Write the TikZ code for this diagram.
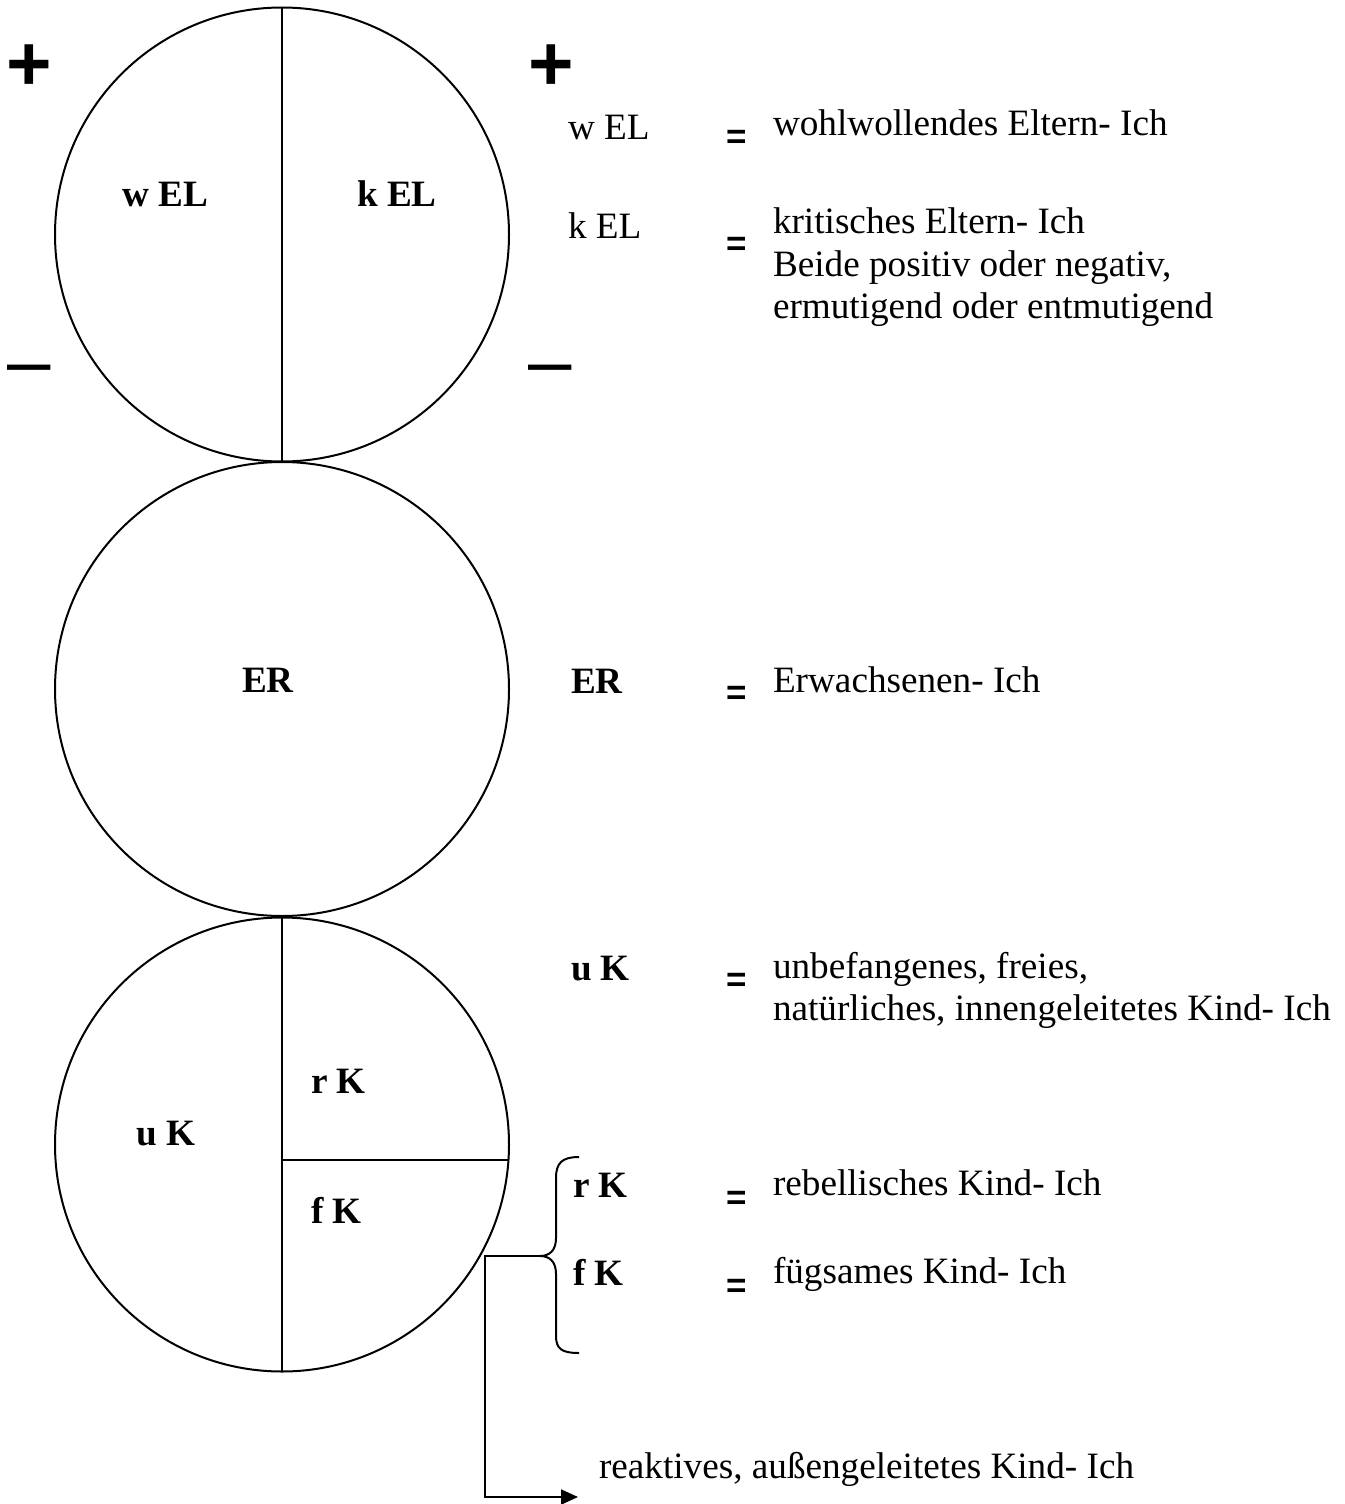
\documentclass[tikz,border=0pt]{standalone}
\usepackage{fontspec}
\setmainfont{Liberation Serif}
\newfontfamily\signfont{Liberation Sans}
\usetikzlibrary{arrows.meta}

\begin{document}
\begin{tikzpicture}[x=0.5pt,y=-0.5pt,line width=1pt,
  cellname/.style={inner sep=0pt,anchor=base,font=\fontsize{18.6}{22}\selectfont\bfseries},
  abbr/.style={inner sep=0pt,anchor=base west,font=\fontsize{18.6}{22}\selectfont},
  abbrb/.style={abbr,font=\fontsize{18.6}{22}\selectfont\bfseries},
  desc/.style={inner sep=0pt,anchor=base west,font=\fontsize{18.6}{22}\selectfont},
  equals/.style={inner sep=0pt,font=\signfont\bfseries\fontsize{17.5}{20}\selectfont},
  possign/.style={inner sep=0pt,font=\signfont\bfseries\fontsize{39}{44}\selectfont},
  negsign/.style={inner sep=0pt,anchor=base west,font=\signfont\fontsize{39}{44}\selectfont},
  arrowline/.style={-{Triangle[length=8.5pt,width=7.5pt]}}]
\useasboundingbox (0,0) rectangle (1344,1504);

% three circles, one above the other
\draw (282,234.5) circle[radius=227];
\draw (282,689) circle[radius=227];
\draw (282,1144.5) circle[radius=227];

\draw (282,7.5) -- (282,461.5);
\draw (282,917.5) -- (282,1371.5);
\draw (282,1160) -- (508.5,1160);

\node[possign] (plusL) at (29,68) {+};
\node[possign] (plusR) at (551,68) {+};
\node[negsign] (minusL) at (7,387) {–};
\node[negsign] (minusR) at (527,387) {–};

\node[cellname] (wELin) at (165,206) {w EL};
\node[cellname] (kELin) at (397,206) {k EL};
\node[cellname] (ERin) at (268,692) {ER};
\node[cellname] (uKin) at (166,1145) {u K};
\node[cellname,anchor=base west] (rKin) at (310,1093) {r K};
\node[cellname,anchor=base west] (fKin) at (310,1223) {f K};

% legend
\node[abbr] (wEL) at (567,140) {w EL};
\node[equals] (eqw) at (736.5,139.5) {=};
\node[desc] (wELtext) at (772,135) {wohlwollendes Eltern- Ich};

\node[abbr] (kEL) at (567,238) {k EL};
\node[equals] (eqk) at (736.5,246) {=};
\node[desc] (kELtext) at (772,233) {kritisches Eltern- Ich};
\node[desc] (kELtext2) at (772,276) {Beide positiv oder negativ,};
\node[desc] (kELtext3) at (772,318) {ermutigend oder entmutigend};

\node[abbrb] (ER) at (570,693) {ER};
\node[equals] (eqER) at (736.5,695) {=};
\node[desc] (ERtext) at (772,692) {Erwachsenen- Ich};

\node[abbrb] (uK) at (570,980) {u K};
\node[equals] (equ) at (736.5,982) {=};
\node[desc] (uKtext) at (772,978) {unbefangenes, freies,};
\node[desc] (uKtext2) at (772,1020) {natürliches, innengeleitetes Kind- Ich};

\node[abbrb] (rK) at (572,1197) {r K};
\node[equals] (eqr) at (736.5,1200) {=};
\node[desc] (rKtext) at (772,1195) {rebellisches Kind- Ich};

\node[abbrb] (fK) at (572,1285) {f K};
\node[equals] (eqf) at (736.5,1288) {=};
\node[desc] (fKtext) at (772,1283) {fügsames Kind- Ich};

\node[desc] (reaktiv) at (598,1478) {reaktives, außengeleitetes Kind- Ich};

% brace round r K and f K
\coordinate (bracetip) at (540,1256);
\draw (579,1157) .. controls (562,1157) and (556,1163) .. (556,1178)
  -- (556,1238) .. controls (556,1250) and (550,1256) .. (bracetip)
  .. controls (550,1256) and (556,1262) .. (556,1274)
  -- (556,1336) .. controls (556,1349) and (562,1353) .. (579,1353);

\coordinate (kink) at (485,1256);
\coordinate (arrowend) at (578,1497);
\draw[arrowline] (bracetip) -- (kink) |- (arrowend);
\end{tikzpicture}
\end{document}
